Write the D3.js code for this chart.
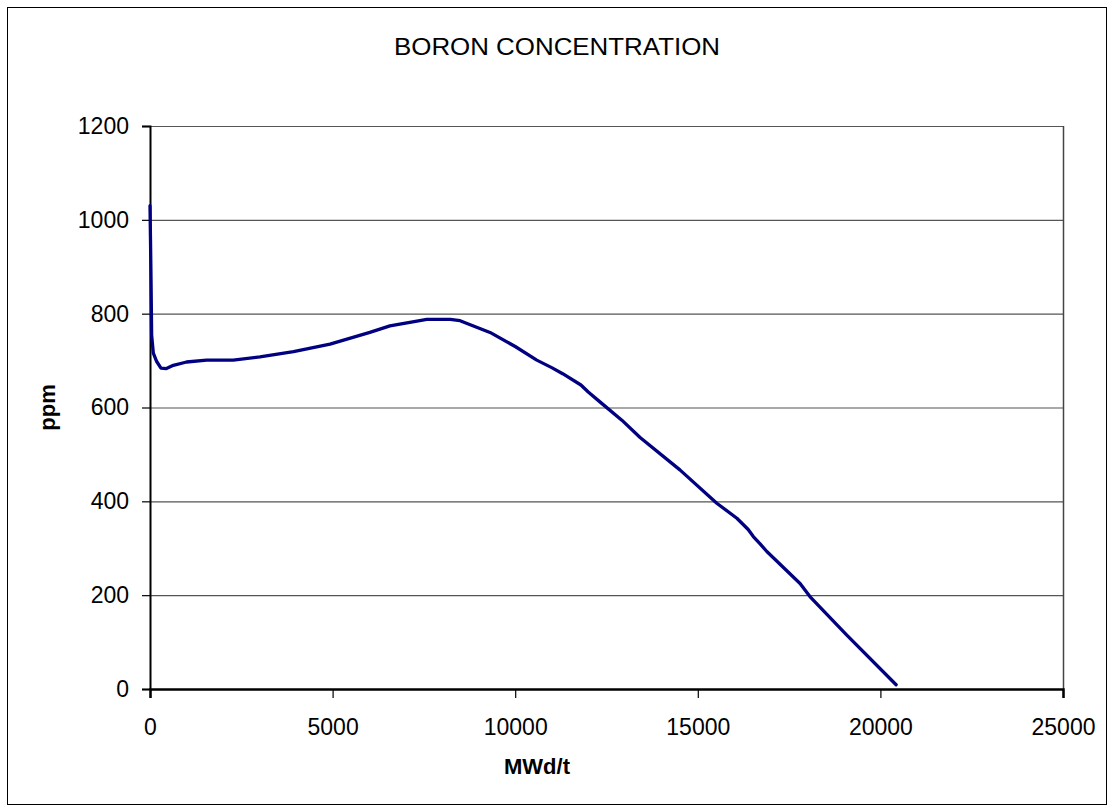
<!DOCTYPE html>
<html>
<head>
<meta charset="utf-8">
<script src="https://cdnjs.cloudflare.com/ajax/libs/d3/7.8.5/d3.min.js"></script>
<style>
  body { margin: 0; background: #fff; }
  svg { font-family: "Liberation Sans", Arial, sans-serif; }
  .axis path, .axis line { stroke: #000; }
  .axis text { font-size: 23px; fill: #000; }
</style>
</head>
<body>
<svg id="chart"></svg>
<script>
// burnup (MWd/t) and boron concentration (ppm)
var burnup = [0, 15, 30, 45, 91, 183, 300, 450, 640, 1000, 1550, 2280, 3010, 3930, 4930,
              6020, 6570, 7580, 8220, 8490, 9310, 10000, 10590, 11000, 11300, 11800, 12000,
              12320, 12920, 13420, 14510, 15520, 16070, 16160, 16380, 16520, 16700, 16890,
              17800, 18070, 19080, 20430];
var boron = [1030, 950, 860, 754, 716, 698, 684, 683, 690, 697, 701, 701, 708, 719, 735,
             760, 774, 788, 788, 785, 760, 730, 701, 685, 672, 648, 633,
             612, 573, 536, 467, 396, 364, 357, 340, 325, 310, 293,
             225, 197, 115, 9];
var xTicks = [0, 5000, 10000, 15000, 20000, 25000];
var yTicks = [0, 200, 400, 600, 800, 1000, 1200];

var title = "BORON CONCENTRATION",
    xLabel = "MWd/t",
    yLabel = "ppm";

var width = 1114, height = 812;
var margin = {top: 126, right: 51, bottom: 123, left: 150},
    w = width - margin.left - margin.right,
    h = height - margin.top - margin.bottom;

var svg = d3.select("#chart")
    .attr("width", width)
    .attr("height", height);

// outer chart border
svg.append("rect")
   .attr("x", 7.5).attr("y", 7.5)
   .attr("width", 1099).attr("height", 797)
   .attr("fill", "none")
   .attr("stroke", "#000")
   .attr("stroke-width", 1);

svg.append("text")
   .attr("x", 557)
   .attr("y", 55)
   .attr("text-anchor", "middle")
   .style("font-size", "23px")
   .attr("textLength", 326)
   .attr("lengthAdjust", "spacingAndGlyphs")
   .text(title);

var g = svg.append("g")
   .attr("transform", "translate(" + margin.left + "," + margin.top + ")");

var xScale = d3.scaleLinear().domain([0, 25000]).range([0, w]);
var yScale = d3.scaleLinear().domain([0, 1200]).range([h, 0]);

// gridlines
g.append("g")
 .selectAll("line")
 .data(yTicks.filter(function(d) { return d > 0; }))
 .enter()
 .append("line")
 .attr("x1", 0).attr("x2", w)
 .attr("y1", function(d) { return yScale(d) + 0.5; })
 .attr("y2", function(d) { return yScale(d) + 0.5; })
 .attr("stroke", "#555")
 .attr("stroke-width", 1.2);

// right border of plot area
g.append("line")
 .attr("x1", w + 0.5).attr("x2", w + 0.5)
 .attr("y1", 0).attr("y2", h)
 .attr("stroke", "#444")
 .attr("stroke-width", 1.5);

var xAxis = d3.axisBottom(xScale)
    .tickValues(xTicks)
    .tickSize(9)
    .tickPadding(21)
    .tickFormat(d3.format("d"));

var yAxis = d3.axisLeft(yScale)
    .tickValues(yTicks)
    .tickSize(8)
    .tickPadding(13)
    .tickFormat(d3.format("d"));

g.append("g")
 .attr("class", "axis")
 .attr("transform", "translate(0," + h + ")")
 .call(xAxis)
 .call(function(s) {
   s.select(".domain").attr("stroke-width", 2.5);
   s.selectAll(".tick line").attr("stroke-width", 1.2);
 });

g.append("g")
 .attr("class", "axis")
 .call(yAxis)
 .call(function(s) {
   s.select(".domain").attr("stroke-width", 2);
   s.selectAll(".tick line").attr("stroke-width", 1.2);
 });

var data = burnup.map(function(d, i) { return {x: d, y: boron[i]}; });

var line = d3.line()
    .x(function(d) { return xScale(d.x); })
    .y(function(d) { return yScale(d.y); });

g.append("path")
 .datum(data)
 .attr("d", line)
 .attr("fill", "none")
 .attr("stroke", "#000080")
 .attr("stroke-width", 3.3)
 .attr("stroke-linejoin", "round")
 .attr("stroke-linecap", "round");

// axis titles
svg.append("text")
   .attr("x", 537)
   .attr("y", 774)
   .attr("text-anchor", "middle")
   .style("font-size", "22px")
   .style("font-weight", "bold")
   .text(xLabel);

svg.append("text")
   .attr("text-anchor", "middle")
   .attr("transform", "translate(55," + (margin.top + h / 2) + ")rotate(-90)")
   .style("font-size", "22px")
   .style("font-weight", "bold")
   .text(yLabel);
</script>
</body>
</html>
